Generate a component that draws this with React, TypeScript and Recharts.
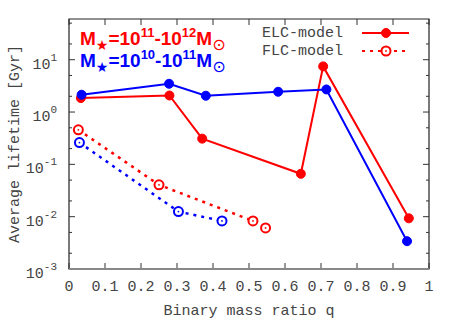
import { LineChart, Line, XAxis, YAxis, ReferenceArea, Legend } from 'recharts';

// ELC model (solid lines, filled circles)
const elcHighQ = [0.033, 0.279, 0.37, 0.644, 0.706, 0.944];
const elcHighLife = [1.85, 2.07, 0.31, 0.066, 7.45, 0.0093];
const elcLowQ = [0.035, 0.278, 0.38, 0.581, 0.715, 0.939];
const elcLowLife = [2.14, 3.47, 2.05, 2.44, 2.7, 0.0034];

// FLC model (dotted lines, open circles)
const flcHighQ = [0.026, 0.25, 0.511, 0.546];
const flcHighLife = [0.457, 0.0406, 0.0083, 0.0061];
const flcLowQ = [0.029, 0.304, 0.425];
const flcLowLife = [0.261, 0.0125, 0.0083];

const xTicks = [0, 0.1, 0.2, 0.3, 0.4, 0.5, 0.6, 0.7, 0.8, 0.9, 1];
const yTicks = [0.001, 0.002, 0.005, 0.01, 0.02, 0.05, 0.1, 0.2, 0.5, 1, 2, 5, 10, 20, 50];
const yMajor = [0.001, 0.01, 0.1, 1, 10];
const legendNames = ['ELC-model', 'FLC-model'];

const RED = '#ff0000';
const BLUE = '#0000ff';
const INK = '#444';
const MONO = '"Liberation Mono", "DejaVu Sans Mono", monospace';
const SANS = '"Liberation Sans", "DejaVu Sans", Arial, sans-serif';

const W = 458;
const H = 321;
const PLOT_LEFT = 69;
const PLOT_RIGHT = 429;
const PLOT_TOP = 19;
const PLOT_BOTTOM = 269;

const toRows = (qs: number[], vals: number[]) => qs.map((q, i) => ({ q, life: vals[i] }));

function XTick({ x, payload }: any) {
  const v = payload.value as number;
  const label = v === 0 ? '0' : v === 1 ? '1' : v.toFixed(1);
  return (
    <g>
      <line x1={x} x2={x} y1={PLOT_BOTTOM} y2={PLOT_BOTTOM - 6} stroke="#333" />
      <line x1={x} x2={x} y1={PLOT_TOP} y2={PLOT_TOP + 6} stroke="#333" />
      <text x={x} y={291} textAnchor="middle" fontFamily={MONO} fontSize={15} fill={INK}>
        {label}
      </text>
    </g>
  );
}

function YTick({ y, payload }: any) {
  const v = payload.value as number;
  const major = yMajor.some(m => Math.abs(m - v) / m < 1e-6);
  const len = major ? 6 : 3;
  const exp = Math.round(Math.log10(v));
  return (
    <g>
      <line x1={PLOT_LEFT} x2={PLOT_LEFT + len} y1={y} y2={y} stroke="#333" />
      <line x1={PLOT_RIGHT} x2={PLOT_RIGHT - len} y1={y} y2={y} stroke="#333" />
      {major && (
        <text x={57} y={y + 9} textAnchor="end" fontFamily={MONO} fontSize={15} fill={INK}>
          10<tspan fontSize={11} dy={-8}>{exp}</tspan>
        </text>
      )}
    </g>
  );
}

function FilledDot({ cx, cy, stroke }: any) {
  return <circle cx={cx} cy={cy} r={4.5} fill={stroke} stroke={stroke} />;
}

function OpenDot({ cx, cy, stroke }: any) {
  return (
    <g>
      <circle cx={cx} cy={cy} r={4.5} fill="#fff" stroke={stroke} strokeWidth={2} />
      <circle cx={cx} cy={cy} r={0.9} fill={stroke} />
    </g>
  );
}

function LegendBox() {
  return (
    <div style={{ fontFamily: MONO, fontSize: 15, color: INK }}>
      {legendNames.map((name, i) => (
        <div key={name} style={{ display: 'flex', alignItems: 'center', height: 18 }}>
          <span style={{ width: 103, textAlign: 'right', whiteSpace: 'nowrap' }}>{name}</span>
          <svg width={50} height={14} style={{ marginLeft: 17 }}>
            <line x1={2} x2={49} y1={7} y2={7} stroke={RED} strokeWidth={2} strokeDasharray={i === 0 ? undefined : '3 5'} />
            {i === 0 ? <FilledDot cx={26} cy={7} stroke={RED} /> : <OpenDot cx={26} cy={7} stroke={RED} />}
          </svg>
        </div>
      ))}
    </div>
  );
}

export default function App() {
  return (
    <div style={{ position: 'absolute', left: 0, top: 0, width: W, height: H, background: '#fff' }}>
      <LineChart width={W} height={H} margin={{ top: PLOT_TOP, right: W - PLOT_RIGHT, bottom: 0, left: 0 }}>
        <XAxis
          type="number"
          dataKey="q"
          domain={[0, 1]}
          ticks={xTicks}
          height={H - PLOT_BOTTOM}
          axisLine={false}
          tickLine={false}
          tick={<XTick />}
          allowDataOverflow
        />
        <YAxis
          type="number"
          dataKey="life"
          scale="log"
          domain={[0.001, 60]}
          ticks={yTicks}
          width={PLOT_LEFT}
          axisLine={false}
          tickLine={false}
          tick={<YTick />}
          interval={0}
          allowDataOverflow
        />
        <ReferenceArea x1={0} x2={1} y1={0.001} y2={60} fill="none" stroke="#222" strokeWidth={1.2} />
        <Line data={toRows(elcHighQ, elcHighLife)} dataKey="life" stroke={RED} strokeWidth={2} dot={<FilledDot />} isAnimationActive={false} />
        <Line data={toRows(elcLowQ, elcLowLife)} dataKey="life" stroke={BLUE} strokeWidth={2} dot={<FilledDot />} isAnimationActive={false} />
        <Line data={toRows(flcHighQ, flcHighLife)} dataKey="life" stroke={RED} strokeWidth={2.5} strokeDasharray="3 5" dot={<OpenDot />} isAnimationActive={false} />
        <Line data={toRows(flcLowQ, flcLowLife)} dataKey="life" stroke={BLUE} strokeWidth={2.5} strokeDasharray="3 5" dot={<OpenDot />} isAnimationActive={false} />
        <Legend
          layout="vertical"
          align="center"
          verticalAlign="middle"
          content={<LegendBox />}
          wrapperStyle={{ position: 'absolute', left: 240, top: 24, width: 180 }}
        />
      </LineChart>
      <svg width={W} height={H} style={{ position: 'absolute', left: 0, top: 0, pointerEvents: 'none' }}>
        <line x1={PLOT_LEFT} x2={PLOT_RIGHT} y1={PLOT_BOTTOM} y2={PLOT_BOTTOM} stroke="#888" strokeWidth={2} />
        <text x={80} y={45} fill={RED} fontFamily={SANS} fontWeight="bold" fontSize={19}>
          M<tspan fontSize={14} dy={5}>★</tspan>
          <tspan dy={-5}>=10</tspan>
          <tspan fontSize={13} dy={-8}>11</tspan>
          <tspan dy={8}>-10</tspan>
          <tspan fontSize={13} dy={-8}>12</tspan>
          <tspan dy={8}>M</tspan>
          <tspan fontSize={16} fontWeight="normal" dy={5}>⊙</tspan>
        </text>
        <text x={80} y={67} fill={BLUE} fontFamily={SANS} fontWeight="bold" fontSize={19}>
          M<tspan fontSize={14} dy={5}>★</tspan>
          <tspan dy={-5}>=10</tspan>
          <tspan fontSize={13} dy={-8}>10</tspan>
          <tspan dy={8}>-10</tspan>
          <tspan fontSize={13} dy={-8}>11</tspan>
          <tspan dy={8}>M</tspan>
          <tspan fontSize={16} fontWeight="normal" dy={5}>⊙</tspan>
        </text>
        <text x={249} y={315} textAnchor="middle" fontFamily={MONO} fontSize={15} fill={INK}>
          Binary mass ratio q
        </text>
        <text
          x={0}
          y={0}
          transform="translate(19, 144) rotate(-90)"
          textAnchor="middle"
          fontFamily={MONO}
          fontSize={15}
          fill={INK}
        >
          Average lifetime [Gyr]
        </text>
      </svg>
    </div>
  );
}
